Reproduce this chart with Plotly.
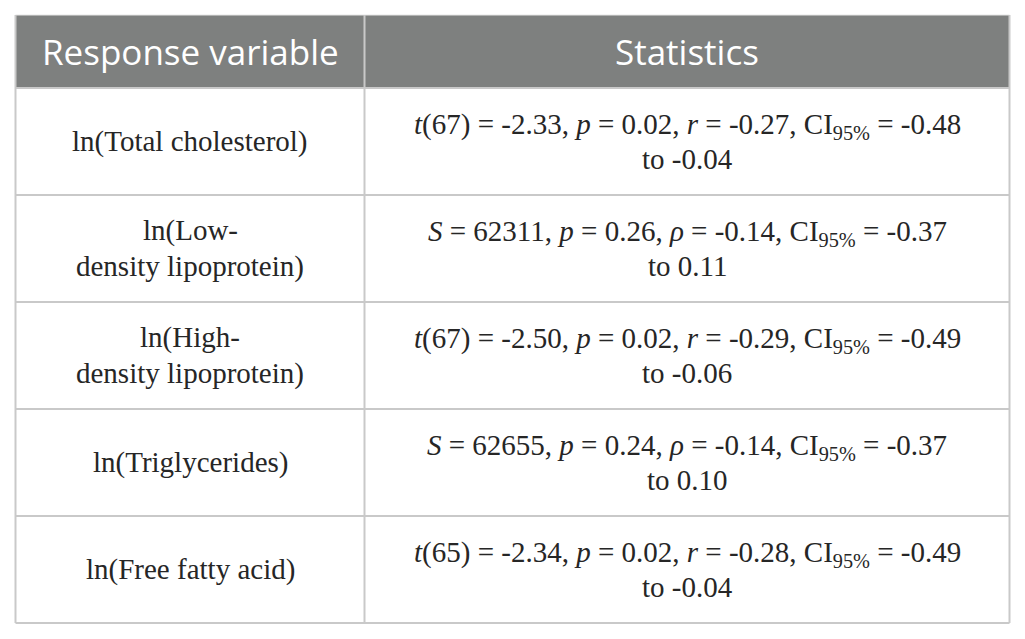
import plotly.graph_objects as go

# 表格内容
header = ["Response variable", "Statistics"]

variables = [
    ["ln(Total cholesterol)"],
    ["ln(Low-", "density lipoprotein)"],
    ["ln(High-", "density lipoprotein)"],
    ["ln(Triglycerides)"],
    ["ln(Free fatty acid)"],
]

stats_line1 = [
    "<i>t</i>(67) = -2.33, <i>p</i> = 0.02, <i>r</i> = -0.27, CI<sub>95%</sub> = -0.48",
    "<i>S</i> = 62311, <i>p</i> = 0.26, <i>ρ</i> = -0.14, CI<sub>95%</sub> = -0.37",
    "<i>t</i>(67) = -2.50, <i>p</i> = 0.02, <i>r</i> = -0.29, CI<sub>95%</sub> = -0.49",
    "<i>S</i> = 62655, <i>p</i> = 0.24, <i>ρ</i> = -0.14, CI<sub>95%</sub> = -0.37",
    "<i>t</i>(65) = -2.34, <i>p</i> = 0.02, <i>r</i> = -0.28, CI<sub>95%</sub> = -0.49",
]
stats_line2 = ["to -0.04", "to 0.11", "to -0.06", "to 0.10", "to -0.04"]

# 布局参数（页面本身有 8px 的边距，这里扣掉）
W, H = 1025, 639
off = 8
col_edges = [(15.5 - off) / W, (364.5 - off) / W, (1009.5 - off) / W]
row_px = 107
header_h = 73 / row_px       # 表头高度（以行高为单位）
line_gap = 0.165             # 两行文字的半间距
grid_color = "#c9c9c9"
header_fill = "#7e807f"
text_color = "#262626"
serif = "Liberation Serif, Times New Roman, serif"
sans = "Open Sans, Noto Sans, sans-serif"

n = len(variables)
shapes = []
annotations = []

# 表头背景
shapes.append(dict(type="rect", xref="x", yref="y",
                   x0=col_edges[0], x1=col_edges[2], y0=-header_h, y1=0,
                   fillcolor=header_fill, line=dict(width=0), layer="below"))

# 横线
for i in range(n + 1):
    shapes.append(dict(type="line", xref="x", yref="y",
                       x0=col_edges[0], x1=col_edges[2], y0=i, y1=i,
                       line=dict(color=grid_color, width=2)))
shapes.append(dict(type="line", xref="x", yref="y",
                   x0=col_edges[0], x1=col_edges[2], y0=-header_h, y1=-header_h,
                   line=dict(color="#e6e6e6", width=1)))

# 竖线
for xe in col_edges:
    shapes.append(dict(type="line", xref="x", yref="y",
                       x0=xe, x1=xe, y0=-header_h, y1=n,
                       line=dict(color=grid_color, width=2)))

# 表头文字
for j, h in enumerate(header):
    xc = (col_edges[j] + col_edges[j + 1]) / 2
    annotations.append(dict(x=xc, y=-header_h / 2, xref="x", yref="y",
                            text=h, showarrow=False,
                            font=dict(family=sans, size=35, color="white")))

# 单元格文字
for i in range(n):
    yc = i + 0.5
    xl = (col_edges[0] + col_edges[1]) / 2
    xr = (col_edges[1] + col_edges[2]) / 2
    lines = variables[i]
    if len(lines) == 1:
        ys = [yc]
    else:
        ys = [yc - line_gap, yc + line_gap]
    for t, yy in zip(lines, ys):
        annotations.append(dict(x=xl, y=yy, xref="x", yref="y", text=t,
                                showarrow=False,
                                font=dict(family=serif, size=29, color=text_color)))
    annotations.append(dict(x=xr, y=yc - line_gap + 0.02, xref="x", yref="y",
                            text=stats_line1[i], showarrow=False,
                            font=dict(family=serif, size=29, color=text_color)))
    annotations.append(dict(x=xr, y=yc + line_gap, xref="x", yref="y",
                            text=stats_line2[i], showarrow=False,
                            font=dict(family=serif, size=29, color=text_color)))

top = -header_h - (15 - off) / row_px
bottom = top + H / row_px

fig = go.Figure()
fig.update_layout(
    width=W, height=H,
    margin=dict(l=0, r=0, t=0, b=0),
    paper_bgcolor="white", plot_bgcolor="white",
    showlegend=False,
    xaxis=dict(range=[0, 1], visible=False, fixedrange=True),
    yaxis=dict(range=[bottom, top], visible=False, fixedrange=True),
    shapes=shapes,
    annotations=annotations,
)

fig.write_html("out.html", config={"displayModeBar": False})
